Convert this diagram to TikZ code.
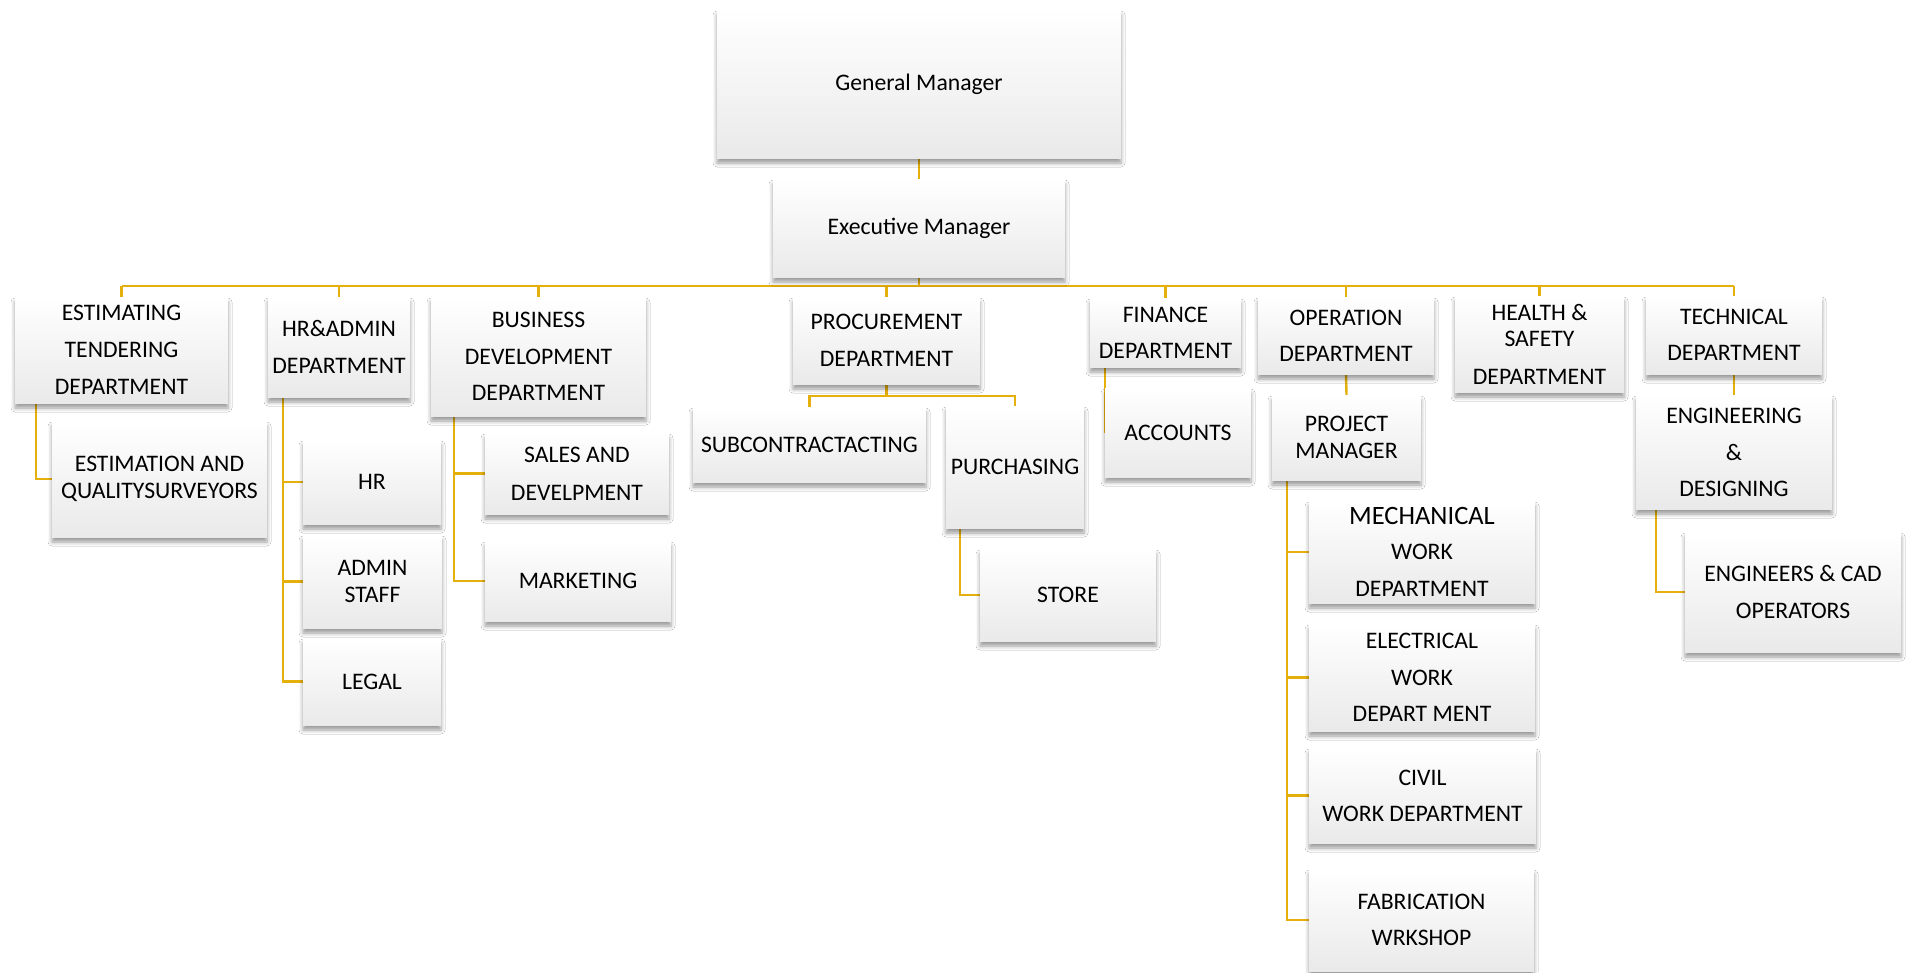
\documentclass[tikz,border=0pt]{standalone}
\usepackage{fontspec}
\setmainfont{Carlito}
\usetikzlibrary{shadows.blur,backgrounds}
\definecolor{linegold}{HTML}{E6B00C}
\tikzset{
  box/.style={rectangle, inner sep=0pt, align=center, draw=none,
    top color=white, middle color=white, bottom color=gray!17,
    font=\fontsize{23.7}{27}\selectfont,
    blur shadow={shadow xshift=0pt, shadow yshift=-5pt, shadow blur radius=4pt, shadow opacity=40}},
  conn/.style={draw=linegold, line width=2.4pt}
}
\begin{document}
\begin{tikzpicture}[x=1pt,y=-1pt]
\useasboundingbox (0,0) rectangle (1909,972);

\node[box, minimum width=404pt, minimum height=148pt] (gm) at (919,84) {General Manager};
\node[box, minimum width=292pt, minimum height=98pt] (exec) at (919,228) {Executive Manager};

\node[box, minimum width=213pt, minimum height=106pt] (etd) at (121.5,350) {ESTIMATING\\[10pt]TENDERING\\[10pt]DEPARTMENT};
\node[box, minimum width=142pt, minimum height=100pt] (hra) at (339,347) {HR\&ADMIN\\[10pt]DEPARTMENT};
\node[box, minimum width=215pt, minimum height=119pt] (bd) at (538.5,356.5) {BUSINESS\\[10pt]DEVELOPMENT\\[9pt]DEPARTMENT};
\node[box, minimum width=187pt, minimum height=87pt] (proc) at (886.5,340.5) {PROCUREMENT\\[10pt]DEPARTMENT};
\node[box, minimum width=151pt, minimum height=69pt] (fin) at (1165.5,332.5) {FINANCE\\[9pt]DEPARTMENT};
\node[box, minimum width=176pt, minimum height=77pt] (op) at (1346,335.5) {OPERATION\\[9pt]DEPARTMENT};
\node[box, minimum width=169pt, minimum height=96pt] (hs) at (1539.5,344) {HEALTH \&\\[-1pt]SAFETY\\[11pt]DEPARTMENT};
\node[box, minimum width=176pt, minimum height=78pt] (tech) at (1734,335) {TECHNICAL\\[9pt]DEPARTMENT};

\node[box, minimum width=215pt, minimum height=116pt] (eqs) at (159.5,479) {ESTIMATION AND\\QUALITYSURVEYORS};
\node[box, minimum width=138pt, minimum height=84pt] (hr) at (372,482) {HR};
\node[box, minimum width=139pt, minimum height=93pt] (adm) at (372.5,581.5) {ADMIN\\STAFF};
\node[box, minimum width=138pt, minimum height=87pt] (legal) at (372,681.5) {LEGAL};
\node[box, minimum width=184pt, minimum height=81pt] (sales) at (577,473.5) {SALES AND\\[11pt]DEVELPMENT};
\node[box, minimum width=186pt, minimum height=80pt] (mkt) at (578,581) {MARKETING};
\node[box, minimum width=233pt, minimum height=75pt] (sub) at (809.5,444.5) {SUBCONTRACTACTING};
\node[box, minimum width=138pt, minimum height=122pt] (pur) at (1015,467) {PURCHASING};
\node[box, minimum width=176pt, minimum height=92pt] (store) at (1068,595) {STORE};
\node[box, minimum width=146pt, minimum height=89pt] (acc) at (1178,432.5) {ACCOUNTS};
\node[box, minimum width=149pt, minimum height=85pt] (pm) at (1346.5,437.5) {PROJECT\\MANAGER};
\node[box, minimum width=226pt, minimum height=102pt] (mech) at (1422,552) {{\fontsize{26.5}{30}\selectfont MECHANICAL}\\[8pt]WORK\\[10pt]DEPARTMENT};
\node[box, minimum width=226pt, minimum height=107pt] (elec) at (1422,677.5) {ELECTRICAL\\[10pt]WORK\\[9pt]DEPART MENT};
\node[box, minimum width=227pt, minimum height=95pt] (civil) at (1422.5,795.5) {CIVIL\\[9pt]WORK DEPARTMENT};
\node[box, minimum width=225pt, minimum height=102pt] (fab) at (1421.5,920) {FABRICATION\\[9pt]WRKSHOP};
\node[box, minimum width=196pt, minimum height=114pt] (eng) at (1734,452) {ENGINEERING\\[10pt]\&\\[9pt]DESIGNING};
\node[box, minimum width=216pt, minimum height=120pt] (cad) at (1793,592) {ENGINEERS \& CAD\\[10pt]OPERATORS};

\coordinate (bus) at (0,286);
\coordinate (pbus) at (0,396);

\begin{scope}[on background layer]
\fill[white] (0,0) rectangle (1909,972);
\draw[conn] (gm.south) -- (exec.north);
\draw[conn] (exec.south) -- (exec.south |- bus);
\draw[conn] (etd.north |- bus) -- (tech.north |- bus);
\foreach \n in {etd,hra,bd,proc,fin,op,hs,tech}
  \draw[conn] (\n.north) -- (\n.north |- bus);
\draw[conn] ([xshift=21pt]etd.south west) |- (eqs.west);
\draw[conn] ([xshift=15pt]hra.south west) |- (legal.west);
\draw[conn] ([xshift=15pt]hra.south west) |- (hr.west);
\draw[conn] ([xshift=15pt]hra.south west) |- (adm.west);
\draw[conn] ([xshift=23pt]bd.south west) |- (mkt.west);
\draw[conn] ([xshift=23pt]bd.south west) |- (sales.west);
\draw[conn] (proc.south) -- (proc.south |- pbus);
\draw[conn] (sub.north) -- (sub.north |- pbus) -- (pur.north |- pbus) -- (pur.north);
\draw[conn] ([xshift=14pt]pur.south west) |- (store.west);
\draw[conn] ([xshift=15pt]fin.south west) |- (acc.west);
\draw[conn] (op.south) -- (pm.north);
\draw[conn] ([xshift=15pt]pm.south west) |- (fab.west);
\draw[conn] ([xshift=15pt]pm.south west) |- (mech.west);
\draw[conn] ([xshift=15pt]pm.south west) |- (elec.west);
\draw[conn] ([xshift=15pt]pm.south west) |- (civil.west);
\draw[conn] (tech.south) -- (eng.north);
\draw[conn] ([xshift=20pt]eng.south west) |- (cad.west);
\end{scope}
\end{tikzpicture}
\end{document}
